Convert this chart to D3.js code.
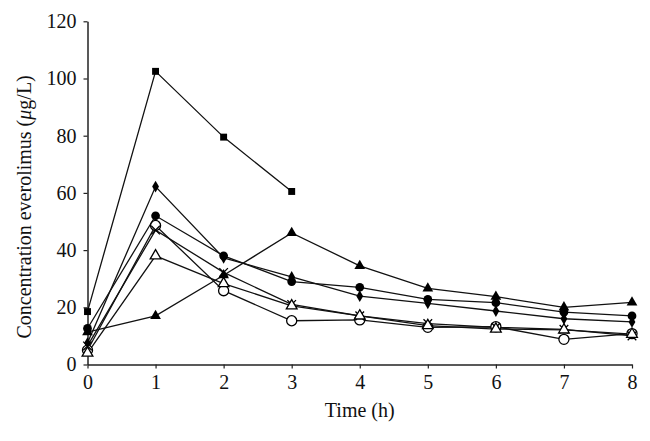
<!DOCTYPE html>
<html>
<head>
<meta charset="utf-8">
<script src="https://cdn.jsdelivr.net/npm/d3@7"></script>
<style>
body { margin: 0; background: #fff; }
svg { display: block; }
text { font-family: "Liberation Serif", "Times New Roman", serif; fill: #111; }
</style>
</head>
<body>
<svg id="chart" width="650" height="441"></svg>
<script>
const times = [0, 1, 2, 3, 4, 5, 6, 7, 8];
const xTicks = [0, 1, 2, 3, 4, 5, 6, 7, 8];
const yTicks = [0, 20, 40, 60, 80, 100, 120];

const squareFilled   = [18.5, 102.5, 79.5, 60.5];
const diamondFilled  = [7.5, 62.2, 37.3, 30.6, 23.9, 21.4, 18.7, 16.0, 14.9];
const circleFilled   = [12.6, 52.0, 38.0, 29.0, 27.0, 22.8, 21.6, 18.3, 17.0];
const circleOpen     = [5.0, 48.6, 25.8, 15.3, 15.6, 13.0, 13.2, 8.8, 10.8];
const crossMarker    = [6.5, 47.0, 32.2, 21.0, 17.0, 14.3, 13.0, 12.3, 10.0];
const triangleOpen   = [4.0, 38.0, 28.3, 20.5, 17.0, 13.6, 12.4, 12.1, 10.6];
const triangleFilled = [11.3, 17.0, 31.2, 46.0, 34.5, 26.6, 23.7, 20.0, 21.7];

const seriesList = [
  { name: "squareFilled", values: squareFilled, symbol: d3.symbolSquare, size: 48, fill: "#000", stroke: "none" },
  { name: "diamondFilled", values: diamondFilled, symbol: d3.symbolDiamond, size: 40, fill: "#000", stroke: "none" },
  { name: "circleFilled", values: circleFilled, symbol: d3.symbolCircle, size: 60, fill: "#000", stroke: "none" },
  { name: "circleOpen", values: circleOpen, symbol: d3.symbolCircle, size: 80, fill: "#fff", stroke: "#000" },
  { name: "crossMarker", values: crossMarker, symbol: d3.symbolTimes, size: 50, fill: "none", stroke: "#000" },
  { name: "triangleOpen", values: triangleOpen, symbol: d3.symbolTriangle, size: 50, fill: "#fff", stroke: "#000" },
  { name: "triangleFilled", values: triangleFilled, symbol: d3.symbolTriangle, size: 50, fill: "#000", stroke: "none" }
];

const svg = d3.select("#chart");
const margin = { left: 87.5, right: 18, top: 21.3, bottom: 76.5 };
const W = 650, H = 441;
const FONT = '"Liberation Serif", "Times New Roman", serif';

const x = d3.scaleLinear().domain([0, 8]).range([margin.left, W - margin.right]);
const y = d3.scaleLinear().domain([0, 120]).range([H - margin.bottom, margin.top]);

// Axes
const xAxis = svg.append("g")
  .attr("transform", `translate(0,${y(0)})`)
  .call(d3.axisBottom(x).tickValues(xTicks).tickSize(4).tickSizeOuter(0).tickPadding(6));
const yAxis = svg.append("g")
  .attr("transform", `translate(${x(0)},0)`)
  .call(d3.axisLeft(y).tickValues(yTicks).tickSize(4).tickSizeOuter(0).tickPadding(7));

[xAxis, yAxis].forEach(g => {
  g.select(".domain").attr("stroke", "#222").attr("stroke-width", 1.5);
  g.selectAll(".tick line").attr("stroke", "#222").attr("stroke-width", 1.2);
  g.selectAll(".tick text")
    .style("font-family", FONT)
    .style("font-size", "20px").attr("fill", "#111");
});

// Lines
const line = d3.line().x((d, i) => x(times[i])).y(d => y(d));
const plot = svg.append("g");
seriesList.forEach(s => {
  plot.append("path")
    .datum(s.values)
    .attr("d", line)
    .attr("fill", "none")
    .attr("stroke", "#111")
    .attr("stroke-width", 1.3);
});
seriesList.forEach(s => {
  plot.selectAll(null)
    .data(s.values)
    .enter()
    .append("path")
    .attr("transform", (d, i) => `translate(${x(times[i])},${y(d)})`)
    .attr("d", d3.symbol().type(s.symbol).size(s.size))
    .attr("fill", s.fill)
    .attr("stroke", s.stroke)
    .attr("stroke-width", 1.3);
});

// Axis titles
svg.append("text")
  .attr("x", (x(0) + x(8)) / 2)
  .attr("y", 417)
  .attr("text-anchor", "middle")
  .style("font-family", FONT)
  .style("font-size", "20px")
  .text("Time (h)");

const yt = svg.append("text")
  .attr("transform", `translate(31,${(y(0) + y(120)) / 2 + 14}) rotate(-90)`)
  .attr("text-anchor", "middle")
  .style("font-family", FONT)
  .style("font-size", "20px");
yt.append("tspan").text("Concentration everolimus (");
yt.append("tspan").style("font-style", "italic").text("μ");
yt.append("tspan").text("g/L)");
</script>
</body>
</html>
